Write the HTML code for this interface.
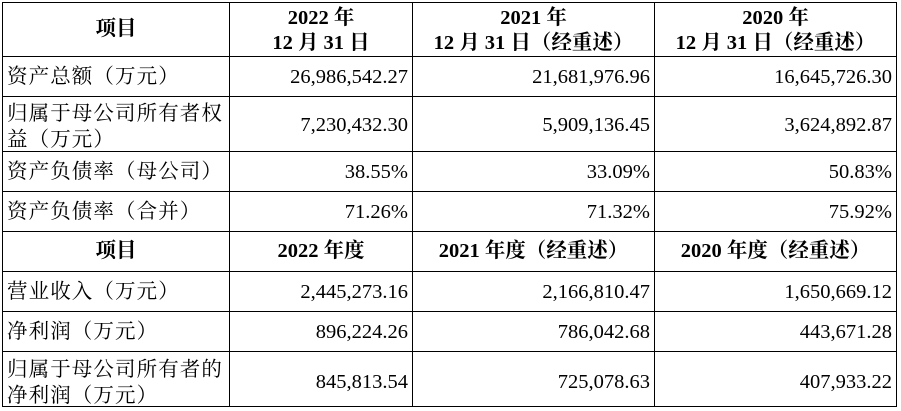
<!DOCTYPE html>
<html>
<head>
<meta charset="utf-8">
<style>
  html,body{margin:0;padding:0;background:#fff;}
  #wrap{position:relative;width:901px;height:411px;overflow:hidden;background:#fff;
    font-family:"Liberation Serif","Noto Serif CJK SC",serif;color:#000;}
  .h{position:absolute;left:2px;width:895px;height:1px;background:#000;}
  .v{position:absolute;top:2px;height:405px;width:1px;background:#000;}
  .c{position:absolute;display:flex;align-items:center;box-sizing:border-box;white-space:nowrap;}
  .lab{font-size:20.5px;line-height:26px;letter-spacing:1.1px;padding-left:4px;justify-content:flex-start;}
  .num{font-size:20.5px;line-height:28px;padding-right:4px;justify-content:flex-end;}
  .hd{font-size:20.5px;line-height:25px;font-weight:bold;justify-content:center;text-align:center;}
  .c0{left:3px;width:226px;}
  .c1{left:230px;width:182px;}
  .c2{left:413px;width:241px;}
  .c3{left:655px;width:241px;}
</style>
</head>
<body>
<div id="wrap">
  <div class="h" style="top:2px"></div>
  <div class="h" style="top:56px"></div>
  <div class="h" style="top:96px"></div>
  <div class="h" style="top:151px"></div>
  <div class="h" style="top:191px"></div>
  <div class="h" style="top:231px"></div>
  <div class="h" style="top:271px"></div>
  <div class="h" style="top:311px"></div>
  <div class="h" style="top:351px"></div>
  <div class="h" style="top:406px"></div>
  <div class="v" style="left:2px"></div>
  <div class="v" style="left:229px"></div>
  <div class="v" style="left:412px"></div>
  <div class="v" style="left:654px"></div>
  <div class="v" style="left:896px"></div>

  <div class="c hd c0" style="top:3px;height:53px;">项目</div>
  <div class="c hd c1" style="top:3px;height:53px;padding-top:2px;"><div>2022 年<br>12 月 31 日</div></div>
  <div class="c hd c2" style="top:3px;height:53px;padding-top:2px;"><div>2021 年<br>12 月 31 日（经重述）</div></div>
  <div class="c hd c3" style="top:3px;height:53px;padding-top:2px;"><div>2020 年<br>12 月 31 日（经重述）</div></div>

  <div class="c lab c0" style="top:57px;height:39px;">资产总额（万元）</div>
  <div class="c num c1" style="top:57px;height:39px;">26,986,542.27</div>
  <div class="c num c2" style="top:57px;height:39px;">21,681,976.96</div>
  <div class="c num c3" style="top:57px;height:39px;">16,645,726.30</div>

  <div class="c lab c0" style="top:97px;height:54px;padding-top:5px;"><div>归属于母公司所有者权<br>益（万元）</div></div>
  <div class="c num c1" style="top:97px;height:54px;padding-top:2px;">7,230,432.30</div>
  <div class="c num c2" style="top:97px;height:54px;padding-top:2px;">5,909,136.45</div>
  <div class="c num c3" style="top:97px;height:54px;padding-top:2px;">3,624,892.87</div>

  <div class="c lab c0" style="top:152px;height:39px;">资产负债率（母公司）</div>
  <div class="c num c1" style="top:152px;height:39px;">38.55%</div>
  <div class="c num c2" style="top:152px;height:39px;">33.09%</div>
  <div class="c num c3" style="top:152px;height:39px;">50.83%</div>

  <div class="c lab c0" style="top:192px;height:39px;">资产负债率（合并）</div>
  <div class="c num c1" style="top:192px;height:39px;">71.26%</div>
  <div class="c num c2" style="top:192px;height:39px;">71.32%</div>
  <div class="c num c3" style="top:192px;height:39px;">75.92%</div>

  <div class="c hd c0" style="top:232px;height:39px;">项目</div>
  <div class="c hd c1" style="top:232px;height:39px;">2022 年度</div>
  <div class="c hd c2" style="top:232px;height:39px;">2021 年度（经重述）</div>
  <div class="c hd c3" style="top:232px;height:39px;">2020 年度（经重述）</div>

  <div class="c lab c0" style="top:272px;height:39px;">营业收入（万元）</div>
  <div class="c num c1" style="top:272px;height:39px;">2,445,273.16</div>
  <div class="c num c2" style="top:272px;height:39px;">2,166,810.47</div>
  <div class="c num c3" style="top:272px;height:39px;">1,650,669.12</div>

  <div class="c lab c0" style="top:312px;height:39px;">净利润（万元）</div>
  <div class="c num c1" style="top:312px;height:39px;">896,224.26</div>
  <div class="c num c2" style="top:312px;height:39px;">786,042.68</div>
  <div class="c num c3" style="top:312px;height:39px;">443,671.28</div>

  <div class="c lab c0" style="top:352px;height:54px;padding-top:7px;"><div>归属于母公司所有者的<br>净利润（万元）</div></div>
  <div class="c num c1" style="top:352px;height:54px;padding-top:5px;">845,813.54</div>
  <div class="c num c2" style="top:352px;height:54px;padding-top:5px;">725,078.63</div>
  <div class="c num c3" style="top:352px;height:54px;padding-top:5px;">407,933.22</div>
</div>
</body>
</html>
